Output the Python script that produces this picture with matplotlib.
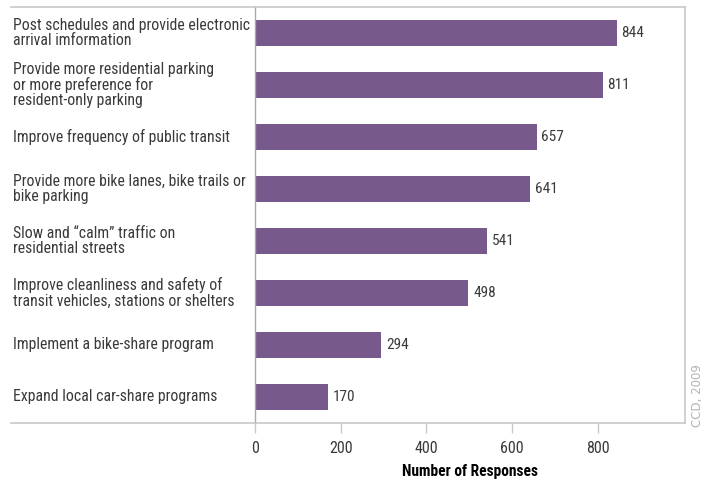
import matplotlib.pyplot as plt
import matplotlib.transforms as mtransforms
from matplotlib.lines import Line2D
from matplotlib import font_manager

names = {f.name for f in font_manager.fontManager.ttflist}
cands = [n for n in ['Roboto Condensed', 'Liberation Sans Narrow', 'Open Sans Condensed',
                     'Noto Sans Condensed', 'DejaVu Sans Condensed'] if n in names]
narrow = cands[0] if cands else 'Roboto'
plt.rcParams['font.family'] = [narrow, 'DejaVu Sans']

labels = [
    "Post schedules and provide electronic\narrival imformation",
    "Provide more residential parking\nor more preference for\nresident-only parking",
    "Improve frequency of public transit",
    "Provide more bike lanes, bike trails or\nbike parking",
    "Slow and \u201ccalm\u201d traffic on\nresidential streets",
    "Improve cleanliness and safety of\ntransit vehicles, stations or shelters",
    "Implement a bike-share program",
    "Expand local car-share programs",
]
responses = [844, 811, 657, 641, 541, 498, 294, 170]
ticks = [0, 200, 400, 600, 800]

W, H = 714, 482
bar_color = '#775a8b'
frame_color = '#c8c8c8'
text_color = '#3a3a3a'

fig = plt.figure(figsize=(W / 100, H / 100), dpi=100)
ax = fig.add_axes([255 / W, (H - 423) / H, (685 - 255) / W, (423 - 7) / H])

ypos = list(range(len(labels)))
ax.barh(ypos, responses, height=0.49, color=bar_color, zorder=2)
ax.set_xlim(0, 1003)
ax.set_ylim(len(labels) - 0.5, -0.5)

for y, v in zip(ypos, responses):
    ax.text(v + 11, y, str(v), va='center', ha='left', fontsize=11, color=text_color)

# category labels sit left of the axis, aligned near the figure edge
trans = mtransforms.blended_transform_factory(fig.transFigure, ax.transData)
for y, lab in zip(ypos, labels):
    ax.text(13 / W, y, lab, transform=trans, va='center', ha='left',
            fontsize=11.3, color=text_color, linespacing=1.02)

ax.set_yticks([])
ax.set_xticks(ticks)
ax.set_xticklabels([str(t) for t in ticks], fontsize=11.5, color=text_color)
ax.tick_params(axis='x', length=7, width=1, color=frame_color, pad=6)
for s in ['top', 'bottom', 'right']:
    ax.spines[s].set_color(frame_color)
    ax.spines[s].set_linewidth(1.2)
ax.spines['left'].set_color('#aaaaaa')
ax.spines['left'].set_linewidth(1.0)

ax.set_xlabel('Number of Responses', fontsize=11.2, fontweight='bold', color='black', labelpad=6)

# extend the frame lines out over the label column
for yy in [423, 7]:
    fig.add_artist(Line2D([11 / W, 255 / W], [(H - yy) / H] * 2, color=frame_color, lw=1.2))

fig.text(697 / W, (H - 396) / H, 'CCD, 2009', rotation=90, ha='center', va='center',
         fontsize=8.5, color='#b4b4b4', family='DejaVu Sans')

fig.savefig('out.png', dpi=100)
